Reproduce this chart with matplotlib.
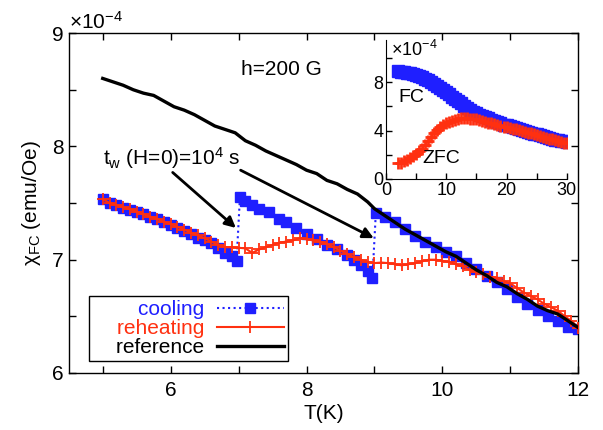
"""Aging/rejuvenation plot: field-cooled susceptibility with stops."""

import matplotlib

matplotlib.use("Agg")
import matplotlib.pyplot as plt
from matplotlib.ticker import FixedLocator

plt.rcParams["font.family"] = ["Liberation Sans", "DejaVu Sans"]
plt.rcParams["mathtext.fontset"] = "custom"
plt.rcParams["mathtext.rm"] = "Liberation Sans"
plt.rcParams["mathtext.it"] = "Liberation Sans:italic"
plt.rcParams["font.size"] = 15

# main panel, susceptibility in units of 1e-4 emu/Oe
cool_T = [5.0, 5.1, 5.2, 5.3, 5.4, 5.5, 5.6, 5.7, 5.8, 5.9, 6.0, 6.1, 6.2, 6.3,
          6.4, 6.5, 6.6, 6.7, 6.8, 6.9, 6.97,
          7.02, 7.1, 7.2, 7.3, 7.45, 7.6, 7.7, 7.85, 8.0, 8.15, 8.3, 8.45, 8.6,
          8.7, 8.8, 8.9, 8.97,
          9.02, 9.15, 9.3, 9.45, 9.6, 9.75, 9.9, 10.05, 10.2, 10.35, 10.5,
          10.65, 10.8, 10.95, 11.1, 11.25, 11.4, 11.55, 11.7, 11.85, 12.0]
cool_chi = [7.535, 7.50, 7.48, 7.46, 7.44, 7.42, 7.40, 7.375, 7.355, 7.33, 7.31,
            7.28, 7.255, 7.225, 7.195, 7.175, 7.15, 7.10, 7.06, 7.03, 6.99,
            7.555, 7.52, 7.48, 7.45, 7.42, 7.36, 7.33, 7.28, 7.225, 7.18, 7.13,
            7.09, 7.04, 7.00, 6.95, 6.90, 6.84,
            7.41, 7.38, 7.33, 7.27, 7.21, 7.16, 7.11, 7.07, 7.03, 6.97, 6.92,
            6.86, 6.80, 6.74, 6.67, 6.61, 6.56, 6.50, 6.46, 6.41, 6.39]

reheat_T = [5.0, 5.1, 5.2, 5.3, 5.4, 5.5, 5.6, 5.7, 5.8, 5.9, 6.0, 6.1, 6.2,
            6.3, 6.4, 6.5, 6.6, 6.7, 6.8, 6.9, 7.0, 7.1, 7.2, 7.3, 7.4, 7.5,
            7.6, 7.7, 7.8, 7.9, 8.0, 8.1, 8.2, 8.3, 8.4, 8.5, 8.6, 8.7, 8.8,
            8.9, 9.0, 9.1, 9.2, 9.3, 9.4, 9.5, 9.6, 9.7, 9.8, 9.9, 10.0, 10.1,
            10.2, 10.3, 10.4, 10.5, 10.6, 10.7, 10.8, 10.9, 11.0, 11.1, 11.2,
            11.3, 11.4, 11.5, 11.6, 11.7, 11.8, 11.9, 12.0]
reheat_chi = [7.535, 7.50, 7.485, 7.465, 7.445, 7.425, 7.40, 7.38, 7.36, 7.335,
              7.315, 7.29, 7.265, 7.24, 7.215, 7.19, 7.16, 7.13, 7.11, 7.11,
              7.105, 7.10, 7.06, 7.09, 7.11, 7.13, 7.15, 7.16, 7.17, 7.19, 7.18,
              7.17, 7.16, 7.14, 7.11, 7.08, 7.05, 7.02, 7.00, 6.98, 6.97, 6.975,
              6.97, 6.96, 6.95, 6.96, 6.97, 6.985, 7.00, 7.00, 6.99, 6.98, 6.96,
              6.94, 6.91, 6.89, 6.87, 6.85, 6.84, 6.81, 6.79, 6.75, 6.71, 6.68,
              6.65, 6.61, 6.58, 6.55, 6.50, 6.46, 6.40]

ref_T = [5.0, 5.15, 5.3, 5.45, 5.6, 5.75, 5.9, 6.05, 6.2, 6.35, 6.5, 6.65, 6.8,
         6.95, 7.1, 7.25, 7.4, 7.55, 7.7, 7.85, 8.0, 8.15, 8.3, 8.45, 8.6, 8.75,
         8.9, 9.0, 9.15, 9.3, 9.45, 9.6, 9.75, 9.9, 10.05, 10.2, 10.35, 10.5,
         10.65, 10.8, 10.95, 11.1, 11.25, 11.4, 11.55, 11.7, 11.85, 12.0]
ref_chi = [8.60, 8.57, 8.54, 8.50, 8.47, 8.45, 8.40, 8.35, 8.32, 8.28, 8.23,
           8.18, 8.15, 8.12, 8.05, 8.01, 7.96, 7.92, 7.88, 7.84, 7.79, 7.76,
           7.70, 7.67, 7.62, 7.58, 7.51, 7.45, 7.39, 7.33, 7.27, 7.22, 7.17,
           7.12, 7.07, 7.03, 6.97, 6.91, 6.86, 6.80, 6.76, 6.70, 6.65, 6.59,
           6.55, 6.52, 6.46, 6.40]

# inset, FC / ZFC over a wide range
inset_T = [2, 2.5, 3, 3.5, 4, 4.5, 5, 5.5, 6, 6.5, 7, 7.5, 8, 8.5, 9, 9.5, 10,
           10.5, 11, 11.5, 12, 12.5, 13, 13.5, 14, 14.5, 15, 15.5, 16, 16.5,
           17, 17.5, 18, 18.5, 19, 19.5, 20, 20.5, 21, 21.5, 22, 22.5, 23,
           23.5, 24, 24.5, 25, 25.5, 26, 26.5, 27, 27.5, 28, 28.5, 29, 29.5, 30]
fc_chi = [8.9, 8.88, 8.85, 8.8, 8.75, 8.7, 8.62, 8.52, 8.42, 8.3, 8.15, 8.0,
          7.85, 7.68, 7.5, 7.35, 7.18, 7.0, 6.82, 6.62, 6.45, 6.25, 6.05, 5.88,
          5.72, 5.55, 5.42, 5.3, 5.2, 5.1, 5.0, 4.9, 4.8, 4.7, 4.6, 4.5, 4.42,
          4.35, 4.28, 4.2, 4.12, 4.05, 3.98, 3.9, 3.82, 3.75, 3.68, 3.6, 3.53,
          3.46, 3.4, 3.33, 3.26, 3.2, 3.15, 3.1, 3.05]
zfc_chi = [1.3, 1.35, 1.45, 1.55, 1.7, 1.9, 2.1, 2.3, 2.5, 2.8, 3.1, 3.45, 3.8,
           4.08, 4.3, 4.48, 4.62, 4.72, 4.82, 4.9, 4.96, 5.0, 5.0, 5.0, 4.98,
           4.95, 4.92, 4.86, 4.8, 4.73, 4.66, 4.6, 4.53, 4.46, 4.4, 4.33, 4.27,
           4.22, 4.17, 4.1, 4.04, 3.97, 3.9, 3.83, 3.76, 3.69, 3.62, 3.55,
           3.48, 3.41, 3.34, 3.27, 3.2, 3.13, 3.07, 3.01, 2.95]

BLUE = "#1f1fff"
RED = "#ff3010"

fig = plt.figure(figsize=(6.03, 4.30), dpi=100)
ax = fig.add_axes([0.114, 0.1326, 0.845, 0.7904])

ax.plot(cool_T, cool_chi, ls=":", lw=1.5, color=BLUE, marker="s", ms=6.5,
        mec=BLUE, label="    cooling", zorder=2)
ax.plot(reheat_T, reheat_chi, ls="-", lw=1.5, color=RED, marker="+", ms=8,
        mew=1.3, label="    reheating", zorder=3)
ax.plot(ref_T, ref_chi, ls="-", lw=2.4, color="black", label="    reference",
        zorder=4)

ax.set_xlim(4.5, 12)
ax.set_ylim(6, 9)
ax.xaxis.set_major_locator(FixedLocator([6, 8, 10, 12]))
ax.xaxis.set_minor_locator(FixedLocator([5, 7, 9, 11]))
ax.yaxis.set_major_locator(FixedLocator([6, 7, 8, 9]))
ax.yaxis.set_minor_locator(FixedLocator([6.5, 7.5, 8.5]))
ax.tick_params(which="both", direction="in", top=True, right=True,
               length=5, width=1, labelsize=15)
ax.tick_params(axis="x", pad=6)
for s in ax.spines.values():
    s.set_linewidth(1.0)

ax.set_xlabel("T(K)", fontsize=15, labelpad=3)
ax.set_ylabel("χ$_{\\mathrm{FC}}$ (emu/Oe)", fontsize=15, labelpad=7)
ax.text(0.0, 1.0, "×10$^{-4}$", transform=ax.transAxes, ha="left",
        va="bottom", fontsize=15)

ax.text(7.03, 8.63, "h=200 G", fontsize=15)
ax.text(5.0, 7.835, "$\\mathrm{t_w}$ (H=0)=10$^4$ s", fontsize=15,
        va="baseline")
arrow = dict(arrowstyle="-|>", lw=2, color="black", mutation_scale=16,
             shrinkA=0, shrinkB=0)
ax.annotate("", xy=(6.96, 7.28), xytext=(6.03, 7.77), arrowprops=arrow)
ax.annotate("", xy=(8.99, 7.19), xytext=(7.03, 7.79), arrowprops=arrow)

leg = ax.legend(loc="lower left", bbox_to_anchor=(0.04, 0.035),
                markerfirst=False, numpoints=1, handlelength=3.2,
                fancybox=False, framealpha=1, edgecolor="black",
                borderpad=0.2, labelspacing=0.0, handletextpad=0.6,
                borderaxespad=0, fontsize=15)
leg.get_frame().set_linewidth(1.0)
for txt, col in zip(leg.get_texts(), [BLUE, RED, "black"]):
    txt.set_color(col)

# inset
ins = fig.add_axes([0.640, 0.584, 0.300, 0.323])
ins.plot(inset_T, fc_chi, ls="none", marker="s", ms=8, color=BLUE, mec=BLUE)
ins.plot(inset_T, zfc_chi, ls="-", lw=1.2, marker="+", ms=9, mew=2,
         color=RED)
ins.set_xlim(0, 30)
ins.set_ylim(0, 11.5)
ins.xaxis.set_major_locator(FixedLocator([0, 10, 20, 30]))
ins.xaxis.set_minor_locator(FixedLocator([5, 15, 25]))
ins.yaxis.set_major_locator(FixedLocator([0, 4, 8]))
ins.yaxis.set_minor_locator(FixedLocator([2, 6, 10]))
ins.tick_params(which="both", direction="in", length=4, width=1,
                labelsize=13, pad=2)
ins.spines["top"].set_visible(False)
ins.spines["right"].set_visible(False)
ins.patch.set_alpha(0)
ins.text(0.03, 1.0, "×10$^{-4}$", transform=ins.transAxes, ha="left",
         va="top", fontsize=13)
ins.text(2.0, 6.7, "FC", fontsize=14, va="center")
ins.text(6.1, 1.65, "ZFC", fontsize=14, va="center")

fig.savefig("out.png", dpi=100)
